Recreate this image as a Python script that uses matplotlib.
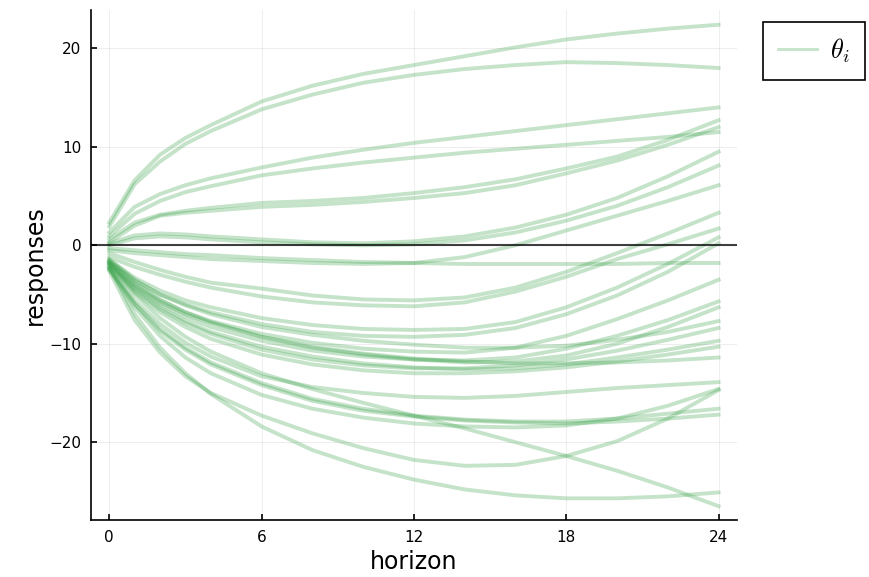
import matplotlib.pyplot as plt

plt.rcParams['mathtext.fontset'] = 'cm'

horizon = [0, 1, 2, 3, 4, 6, 8, 10, 12, 14, 16, 18, 20, 22, 24]

# impulse responses, one list per draw
p1 = [2.3, 6.6, 9.2, 10.9, 12.2, 14.6, 16.2, 17.4, 18.3, 19.2, 20.1, 20.9, 21.5, 22.0, 22.4]
p2 = [1.9, 6.2, 8.5, 10.3, 11.6, 13.8, 15.3, 16.5, 17.3, 17.9, 18.3, 18.6, 18.5, 18.3, 18.0]
p3 = [1.3, 3.9, 5.2, 6.1, 6.8, 7.9, 8.9, 9.7, 10.4, 11.0, 11.6, 12.2, 12.8, 13.4, 14.0]
p4 = [0.9, 3.2, 4.5, 5.4, 6.0, 7.1, 7.8, 8.4, 8.9, 9.4, 9.8, 10.2, 10.6, 11.0, 11.5]
p5 = [0.6, 2.3, 3.1, 3.5, 3.8, 4.3, 4.5, 4.8, 5.3, 5.9, 6.7, 7.8, 9.0, 10.7, 12.7]
p6 = [0.3, 2.0, 3.0, 3.3, 3.5, 3.9, 4.1, 4.4, 4.8, 5.3, 6.1, 7.3, 8.6, 10.2, 12.0]
z1 = [0.2, 1.0, 1.2, 1.1, 0.9, 0.6, 0.3, 0.2, 0.4, 0.9, 1.8, 3.1, 4.8, 7.0, 9.5]
z2 = [0.0, 0.7, 0.9, 0.8, 0.6, 0.3, 0.1, 0.0, 0.1, 0.5, 1.3, 2.5, 4.0, 5.9, 8.1]
r1 = [-0.5, -0.8, -1.0, -1.2, -1.4, -1.6, -1.8, -1.9, -1.8, -1.2, 0.0, 1.5, 3.0, 4.5, 6.1]
n1 = [-0.3, -0.5, -0.7, -0.9, -1.0, -1.3, -1.5, -1.7, -1.8, -1.9, -1.9, -1.9, -1.9, -1.8, -1.8]
r2 = [-0.8, -1.7, -2.5, -3.2, -3.8, -4.4, -5.1, -5.5, -5.6, -5.3, -4.3, -2.7, -0.8, 1.2, 3.3]
r3 = [-1.2, -2.2, -3.0, -3.7, -4.3, -5.2, -5.8, -6.1, -6.2, -5.8, -4.7, -3.2, -1.4, 0.1, 1.7]
r4 = [-1.5, -3.3, -4.6, -5.6, -6.3, -7.4, -8.1, -8.5, -8.6, -8.5, -7.8, -6.3, -4.3, -1.9, 0.8]
r5 = [-1.6, -3.6, -5.0, -6.0, -6.8, -8.0, -8.8, -9.2, -9.3, -9.1, -8.4, -7.0, -5.1, -2.7, 0.2]
r6 = [-1.8, -4.0, -5.6, -6.8, -7.7, -9.0, -9.9, -10.5, -10.8, -10.9, -10.4, -9.2, -7.5, -5.6, -3.5]
r7 = [-1.9, -4.3, -6.0, -7.3, -8.3, -9.7, -10.7, -11.3, -11.6, -11.7, -11.4, -10.5, -9.2, -7.6, -5.7]
r8 = [-1.7, -4.1, -5.8, -7.0, -7.9, -9.3, -10.4, -11.1, -11.6, -11.9, -11.8, -11.2, -10.0, -8.3, -6.3]
f1 = [-1.4, -3.5, -5.0, -6.1, -7.0, -8.3, -9.1, -9.7, -10.1, -10.4, -10.4, -10.2, -9.6, -8.8, -7.7]
f2 = [-2.0, -4.6, -6.5, -7.9, -9.0, -10.6, -11.6, -12.2, -12.5, -12.5, -12.2, -11.6, -10.7, -9.6, -8.4]
f3 = [-1.9, -4.4, -6.3, -7.7, -8.8, -10.3, -11.3, -12.0, -12.4, -12.6, -12.5, -12.1, -11.4, -10.6, -9.7]
f4 = [-2.1, -4.8, -6.8, -8.3, -9.5, -11.1, -12.1, -12.7, -13.0, -13.0, -12.8, -12.4, -11.8, -11.1, -10.3]
f5 = [-1.6, -3.8, -5.5, -6.8, -7.8, -9.3, -10.3, -11.0, -11.5, -11.8, -12.0, -12.0, -11.9, -11.7, -11.4]
f6 = [-2.3, -5.6, -8.0, -9.9, -11.3, -13.3, -14.4, -15.0, -15.4, -15.5, -15.3, -14.9, -14.5, -14.2, -13.9]
f7 = [-2.3, -5.9, -8.5, -10.4, -11.9, -14.0, -15.6, -16.6, -17.3, -17.7, -17.9, -17.9, -17.6, -17.1, -16.6]
f8 = [-2.4, -6.0, -8.7, -10.6, -12.1, -14.2, -15.8, -16.8, -17.4, -17.8, -18.0, -18.1, -17.9, -17.6, -17.2]
f9 = [-2.5, -6.3, -9.2, -11.4, -13.0, -15.2, -16.6, -17.5, -18.1, -18.4, -18.5, -18.3, -17.6, -16.3, -14.6]
d1 = [-1.8, -5.0, -7.4, -9.3, -10.8, -13.0, -14.6, -16.0, -17.3, -18.6, -20.0, -21.4, -22.9, -24.6, -26.5]
b1 = [-2.6, -7.6, -10.9, -13.3, -15.0, -17.3, -19.1, -20.6, -21.8, -22.4, -22.3, -21.4, -19.9, -17.6, -14.7]
b2 = [-2.2, -7.0, -10.4, -13.0, -15.1, -18.4, -20.8, -22.5, -23.8, -24.8, -25.4, -25.7, -25.7, -25.5, -25.1]

responses = [p1, p2, p3, p4, p5, p6, z1, z2, r1, n1, r2, r3, r4, r5, r6, r7, r8,
             f1, f2, f3, f4, f5, f6, f7, f8, f9, d1, b1, b2]

green = (0.242, 0.643, 0.304)

fig = plt.figure(figsize=(8.69, 5.77), dpi=100)
ax = fig.add_axes([0.1047, 0.0988, 0.7433, 0.884])

for i, r in enumerate(responses):
    ax.plot(horizon, r, color=green, alpha=0.3, lw=2.8,
            label=r'$\theta_i$' if i == 0 else None)
ax.axhline(0, color='black', alpha=0.75, lw=1.5)

ax.set_xlim(-0.72, 24.72)
ax.set_ylim(-27.9, 23.9)
ax.set_xticks([0, 6, 12, 18, 24])
ax.set_yticks([-20, -10, 0, 10, 20])
ax.grid(True, color='black', alpha=0.08, lw=0.6)
for s in ['top', 'right']:
    ax.spines[s].set_visible(False)
for s in ['left', 'bottom']:
    ax.spines[s].set_linewidth(1.2)
ax.tick_params(direction='in', length=4, width=1.2, labelsize=11, pad=7)
ax.set_xlabel('horizon', fontsize=17, labelpad=4)
ax.set_ylabel('responses', fontsize=17, labelpad=2)

leg = ax.legend(loc='upper left', bbox_to_anchor=(763 / 869, 1 - 22 / 577),
                bbox_transform=fig.transFigure, borderaxespad=0, fontsize=19,
                handlelength=1.5, handletextpad=0.5, fancybox=False,
                framealpha=1, edgecolor='black', borderpad=0.55)
leg.get_frame().set_linewidth(1.2)
leg.get_lines()[0].set_linewidth(2)

fig.savefig('out.png', dpi=100)
